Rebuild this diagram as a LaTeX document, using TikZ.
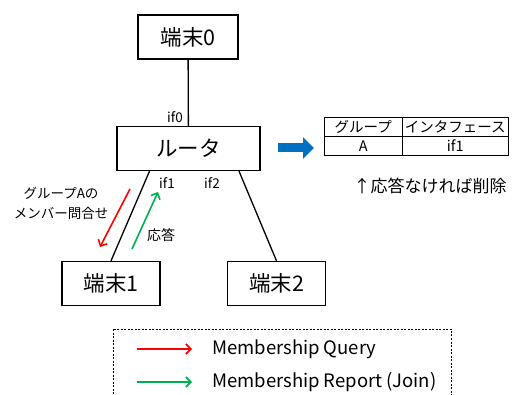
\documentclass[tikz,border=0pt]{standalone}
\usepackage{fontspec}
\setmainfont{Noto Sans CJK JP}
\usetikzlibrary{matrix, positioning, calc, arrows.meta}
\definecolor{qred}{RGB}{255,0,0}
\definecolor{rgreen}{RGB}{0,176,80}
\definecolor{arrblue}{RGB}{0,112,192}

\begin{document}
\begin{tikzpicture}[x=1pt,y=-1pt]
			\tikzset{
				hostbox/.style={draw, line width=1.3pt, minimum height=44pt, inner sep=0pt, font=\fontsize{21.5}{21.5}\selectfont},
				iflabel/.style={font=\fontsize{13.5}{13.5}\selectfont, inner sep=0pt},
				msgarrow/.style={line width=1.6pt, -{Straight Barb[length=5pt,width=10pt]}}
			}
			\clip (0,0) rectangle (514,395);
			\node[hostbox, minimum width=100pt] (t0) at (188,37) {端末0};
			\node[hostbox, minimum width=143pt] (rt) at (188.5,148.5) {ルータ};
			\node[hostbox, minimum width=98pt] (t1) at (111,283.5) {端末1};
			\node[hostbox, minimum width=98pt] (t2) at (276.5,283.5) {端末2};
			\coordinate (p1) at ($(rt.south west)!0.23!(rt.south east)$);
			\coordinate (p2) at ($(rt.south west)!0.85!(rt.south east)$);
			\draw[line width=1.3pt] (t0) -- (rt);
			\draw[line width=1.3pt] (p1) -- (t1.north);
			\draw[line width=1.3pt] (p2) -- (t2.north);
			\node[iflabel] (if0) at (175,117) {if0};
			\node[iflabel] (if1) at (167,183) {if1};
			\node[iflabel] (if2) at (212,183) {if2};
			% query / report
			\coordinate (qa) at (130,189);
			\coordinate (qb) at (100,247);
			\coordinate (ra) at (132,249);
			\coordinate (rb) at (158,192);
			\draw[msgarrow, qred] (qa) -- (qb);
			\draw[msgarrow, rgreen] (ra) -- (rb);
			\node[align=center, font=\fontsize{13.5}{20}\selectfont, inner sep=0pt] (qtext) at (61,203) {グループAの\\メンバー問合せ};
			\node[font=\fontsize{14}{14}\selectfont, inner sep=0pt] (rtext) at (161,235) {応答};
			% table
			\coordinate (ba) at (278,148);
			\coordinate (bb) at (314,148);
			\draw[arrblue, line width=9pt, -{Triangle[length=11pt,width=21pt]}] (ba) -- (bb);
			\matrix [matrix of nodes, anchor=north west, column sep=-1.3pt, row sep=-1.3pt,
				nodes={draw, line width=1.3pt, minimum height=19pt, inner sep=0pt, font=\fontsize{14.5}{14.5}\selectfont},
				column 1/.style={nodes={minimum width=78pt}},
				column 2/.style={nodes={minimum width=106pt}}] (tbl) at (320,113) {
				グループ & インタフェース \\
				A & if1 \\
			};
			\node[font=\fontsize{17}{17}\selectfont, inner sep=0pt] (note) at (430,186) {↑応答なければ削除};
			% legend
			\draw[dash pattern=on 2pt off 1.5pt, line width=0.9pt] (113,329) rectangle (451,400);
			\coordinate (lq1) at (137,349);
			\coordinate (lq2) at (192,349);
			\coordinate (lr1) at (137,382);
			\coordinate (lr2) at (192,382);
			\draw[msgarrow, qred] (lq1) -- (lq2);
			\draw[msgarrow, rgreen] (lr1) -- (lr2);
			\node[anchor=west, font=\fontsize{18.5}{18.5}\selectfont, inner sep=0pt] (lq) at (212,349) {Membership Query};
			\node[anchor=west, font=\fontsize{18.5}{18.5}\selectfont, inner sep=0pt] (lr) at (212,382) {Membership Report (Join)};
		\end{tikzpicture}
\end{document}
